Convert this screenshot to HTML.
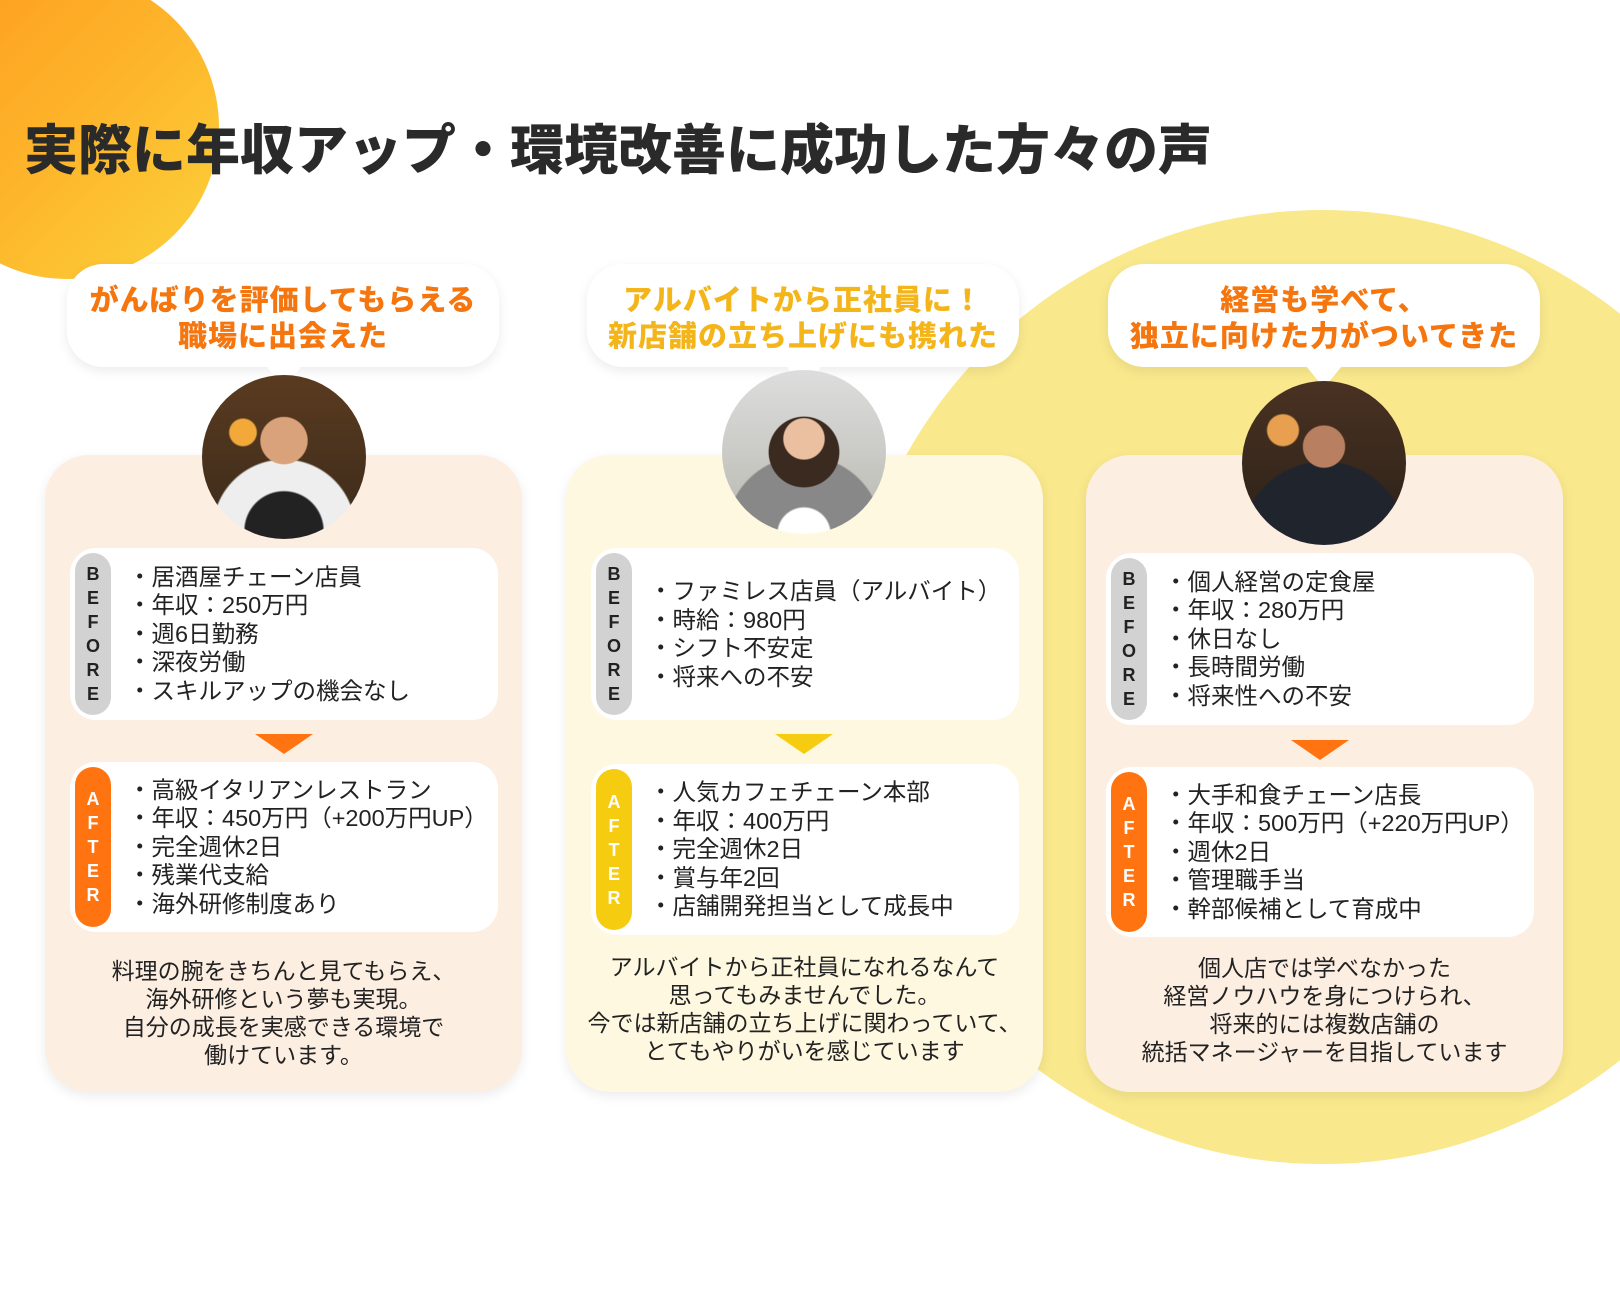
<!DOCTYPE html>
<html><head><meta charset="utf-8"><style>
*{margin:0;padding:0;box-sizing:border-box}
body{width:1620px;height:1290px;position:relative;overflow:hidden;background:#fff;font-family:"Liberation Sans","Noto Sans CJK JP",sans-serif;color:#222}
.abs{position:absolute}
.c1{left:-85px;top:-25px;width:304px;height:304px;border-radius:50%;background:linear-gradient(135deg,#ff9a1f 0%,#fdb42a 50%,#fcd23a 100%)}
.c2{left:846px;top:210px;width:954px;height:954px;border-radius:50%;background:#f9e88c}
h1{position:absolute;left:24px;top:106px;font-size:54px;font-weight:900;color:#2a2a2a;white-space:nowrap;font-family:"Noto Sans CJK JP",sans-serif}
.card{position:absolute;top:455px;width:477px;height:637px;border-radius:44px;box-shadow:0 4px 12px rgba(0,0,0,.08)}
.bub{position:absolute;top:264px;width:432px;height:103px;background:#fff;border-radius:36px;box-shadow:0 4px 12px rgba(0,0,0,.08);text-align:center;font-weight:900;font-size:29px;line-height:36px;padding-top:16px;font-family:"Noto Sans CJK JP",sans-serif;letter-spacing:1px;white-space:nowrap}
.tail{position:absolute;top:366px;width:0;height:0;border-left:18px solid transparent;border-right:18px solid transparent;border-top:22px solid #fff}
.av{position:absolute;width:164px;height:164px;border-radius:50%;overflow:hidden}
.box{position:absolute;width:428px;height:172px;background:#fff;border-radius:26px}
.pill{position:absolute;left:5px;top:5px;width:36px;height:162px;border-radius:18px;font-weight:900;font-size:18px;text-align:center;display:flex;flex-direction:column;justify-content:center;line-height:24px;font-family:"Liberation Sans",sans-serif}
.lines{position:absolute;left:58px;top:0;height:100%;display:flex;flex-direction:column;justify-content:center;font-size:23.5px;line-height:28.5px;white-space:nowrap;color:#222}
.arr{position:absolute;width:0;height:0;border-left:29px solid transparent;border-right:29px solid transparent;border-top:20px solid}
.q{position:absolute;width:477px;text-align:center;font-size:23px;line-height:28px;color:#222;white-space:nowrap}
</style></head><body>
<div class="abs c1"></div>
<div class="abs c2"></div>
<h1>実際に年収アップ・環境改善に成功した方々の声</h1>

<div class="card" style="left:45px;background:#fdeee2"></div>
<div class="bub" style="left:67px;color:#f5760f">がんばりを評価してもらえる<br>職場に出会えた</div>
<div class="tail" style="left:266px"></div>
<div class="av" style="left:202px;top:375px;background:radial-gradient(circle at 50% 40%,#d9a27a 0 18%,transparent 19%),radial-gradient(circle at 25% 35%,#f2a93a 0 8%,transparent 9%),radial-gradient(circle at 50% 95%,#222 0 22%,#eee 23% 40%,transparent 41%),linear-gradient(#5a3b20,#3a2a1a)"></div>
<div class="box" style="left:70px;top:548px"><div class="pill" style="background:#d2d2d2;color:#222">B<br>E<br>F<br>O<br>R<br>E</div>
<div class="lines"><div>・居酒屋チェーン店員</div><div>・年収：250万円</div><div>・週6日勤務</div><div>・深夜労働</div><div>・スキルアップの機会なし</div></div></div>
<div class="arr" style="left:255px;top:734px;border-top-color:#ff7410"></div>
<div class="box" style="left:70px;top:762px;height:170px"><div class="pill" style="background:#ff7410;color:#fff;height:160px">A<br>F<br>T<br>E<br>R</div>
<div class="lines"><div>・高級イタリアンレストラン</div><div>・年収：450万円（+200万円UP）</div><div>・完全週休2日</div><div>・残業代支給</div><div>・海外研修制度あり</div></div></div>
<div class="q" style="left:45px;top:957px">料理の腕をきちんと見てもらえ、<br>海外研修という夢も実現。<br>自分の成長を実感できる環境で<br>働けています。</div>

<div class="card" style="left:566px;background:#fdf8df"></div>
<div class="bub" style="left:587px;color:#f4b51a">アルバイトから正社員に！<br>新店舗の立ち上げにも携れた</div>
<div class="tail" style="left:786px"></div>
<div class="av" style="left:722px;top:370px;background:radial-gradient(circle at 50% 42%,#eac0a0 0 16%,transparent 17%),radial-gradient(ellipse at 50% 50%,#3a2a20 0 30%,transparent 31%),radial-gradient(circle at 50% 100%,#fff 0 14%,#888 15% 42%,transparent 43%),linear-gradient(#ddd,#b8b8b0)"></div>
<div class="box" style="left:591px;top:548px"><div class="pill" style="background:#d2d2d2;color:#222">B<br>E<br>F<br>O<br>R<br>E</div>
<div class="lines"><div>・ファミレス店員（アルバイト）</div><div>・時給：980円</div><div>・シフト不安定</div><div>・将来への不安</div></div></div>
<div class="arr" style="left:775px;top:734px;border-top-color:#f5cc10"></div>
<div class="box" style="left:591px;top:764px;height:171px"><div class="pill" style="background:#f5cc10;color:#fff;height:161px">A<br>F<br>T<br>E<br>R</div>
<div class="lines"><div>・人気カフェチェーン本部</div><div>・年収：400万円</div><div>・完全週休2日</div><div>・賞与年2回</div><div>・店舗開発担当として成長中</div></div></div>
<div class="q" style="left:566px;top:953px">アルバイトから正社員になれるなんて<br>思ってもみませんでした。<br>今では新店舗の立ち上げに関わっていて、<br>とてもやりがいを感じています</div>

<div class="card" style="left:1086px;background:#fdeee2"></div>
<div class="bub" style="left:1108px;color:#f5760f">経営も学べて、<br>独立に向けた力がついてきた</div>
<div class="tail" style="left:1306px"></div>
<div class="av" style="left:1242px;top:381px;background:radial-gradient(circle at 50% 40%,#b88060 0 16%,transparent 17%),radial-gradient(circle at 50% 100%,#20242c 0 45%,transparent 46%),radial-gradient(circle at 25% 30%,#e8a050 0 9%,transparent 10%),linear-gradient(#4a3222,#2a2018)"></div>
<div class="box" style="left:1106px;top:553px"><div class="pill" style="background:#d2d2d2;color:#222">B<br>E<br>F<br>O<br>R<br>E</div>
<div class="lines"><div>・個人経営の定食屋</div><div>・年収：280万円</div><div>・休日なし</div><div>・長時間労働</div><div>・将来性への不安</div></div></div>
<div class="arr" style="left:1291px;top:740px;border-top-color:#ff7410"></div>
<div class="box" style="left:1106px;top:767px;height:170px"><div class="pill" style="background:#ff7410;color:#fff;height:160px">A<br>F<br>T<br>E<br>R</div>
<div class="lines"><div>・大手和食チェーン店長</div><div>・年収：500万円（+220万円UP）</div><div>・週休2日</div><div>・管理職手当</div><div>・幹部候補として育成中</div></div></div>
<div class="q" style="left:1086px;top:954px">個人店では学べなかった<br>経営ノウハウを身につけられ、<br>将来的には複数店舗の<br>統括マネージャーを目指しています</div>
</body></html>
